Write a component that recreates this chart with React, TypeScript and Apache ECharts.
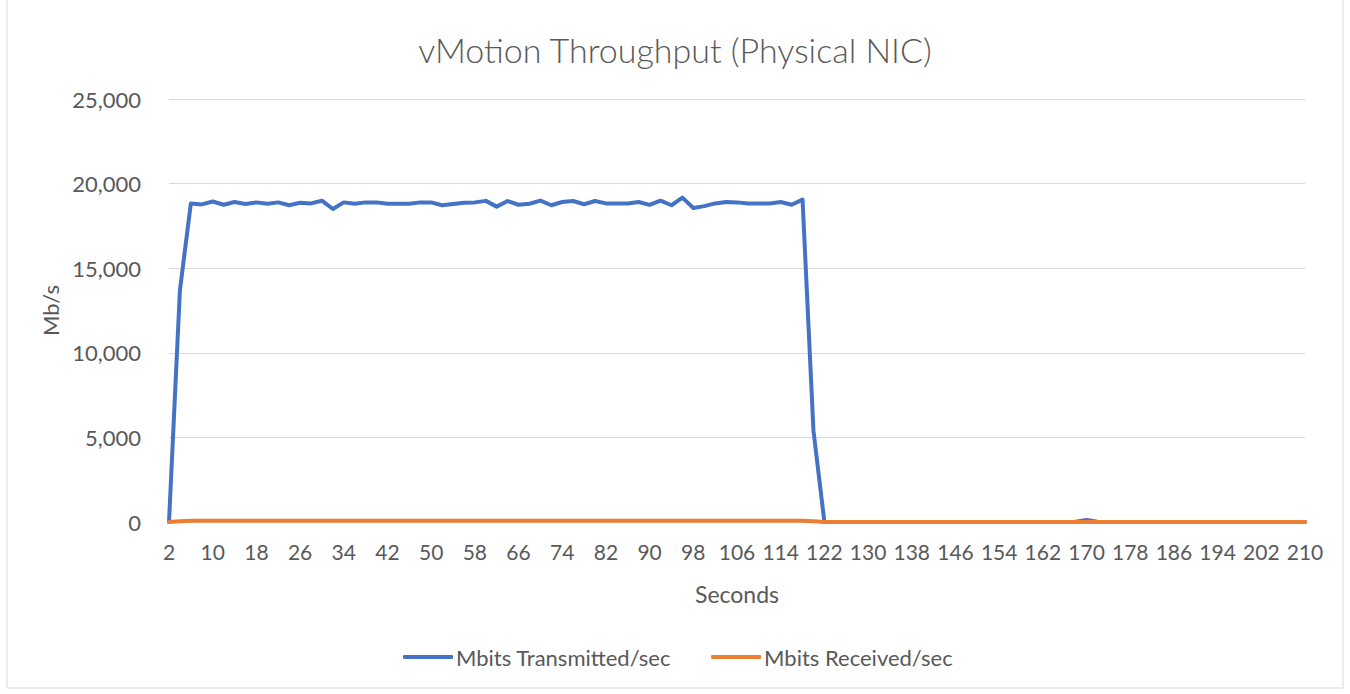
import React, { useEffect, useRef } from "react";
import * as echarts from "echarts";

const seconds: string[] = [];
for (let s = 2; s <= 210; s += 2) seconds.push(String(s));

const transmitted: number[] = [
  0, 13700, 18830, 18770, 18940, 18750, 18910, 18800, 18890, 18810,
  18890, 18720, 18870, 18830, 18990, 18500, 18890, 18810, 18890, 18890,
  18810, 18810, 18810, 18890, 18890, 18720, 18790, 18870, 18890, 18980,
  18640, 18970, 18750, 18810, 18990, 18720, 18910, 18970, 18780, 18970,
  18830, 18830, 18830, 18910, 18740, 18990, 18720, 19170, 18560, 18670,
  18830, 18910, 18890, 18830, 18830, 18830, 18910, 18750, 19050, 5400,
  0, 0, 0, 0, 0, 0, 0, 0, 0, 0,
  0, 0, 0, 0, 0, 0, 0, 0, 0, 0,
  0, 0, 0, 20, 120, 20, 0, 0, 0, 0,
  0, 0, 0, 0, 0, 0, 0, 0, 0, 0,
  0, 0, 0, 0, 0,
];

const received: number[] = [
  0, 50, 70, 70, 70, 70, 70, 70, 70, 70,
  70, 70, 70, 70, 70, 70, 70, 70, 70, 70,
  70, 70, 70, 70, 70, 70, 70, 70, 70, 70,
  70, 70, 70, 70, 70, 70, 70, 70, 70, 70,
  70, 70, 70, 70, 70, 70, 70, 70, 70, 70,
  70, 70, 70, 70, 70, 70, 70, 70, 70, 50,
  0, 0, 0, 0, 0, 0, 0, 0, 0, 0,
  0, 0, 0, 0, 0, 0, 0, 0, 0, 0,
  0, 0, 0, 0, 0, 0, 0, 0, 0, 0,
  0, 0, 0, 0, 0, 0, 0, 0, 0, 0,
  0, 0, 0, 0, 0,
];

const yTicks = { min: 0, max: 25000, interval: 5000 };

const FONT = "Lato, 'Noto Sans', sans-serif";
const TEXT = "#595959";

export default function App() {
  const ref = useRef<HTMLDivElement>(null);
  useEffect(() => {
    if (!ref.current) return;
    const chart = echarts.init(ref.current, undefined, { renderer: "svg" });
    chart.setOption({
      animation: false,
      backgroundColor: "#ffffff",
      textStyle: { fontFamily: FONT, color: TEXT },
      title: {
        text: "vMotion Throughput (Physical NIC)",
        left: "center",
        top: 27,
        textStyle: { fontFamily: FONT, fontSize: 34, fontWeight: 300, color: TEXT },
      },
      graphic: [
        {
          type: "rect",
          shape: { x: 7, y: -1, width: 1336, height: 689 },
          style: { fill: "none", stroke: "#d9d9d9", lineWidth: 1 },
          silent: true,
        },
      ],
      legend: {
        bottom: 21,
        left: 398,
        itemWidth: 50,
        itemHeight: 4,
        itemGap: 40,
        icon: "roundRect",
        textStyle: { fontFamily: FONT, fontSize: 22, color: TEXT, padding: [0, 0, 0, -2] },
        data: ["Mbits Transmitted/sec", "Mbits Received/sec"],
      },
      grid: { left: 169, right: 45, top: 99, bottom: 172, containLabel: false },
      xAxis: {
        type: "category",
        data: seconds,
        boundaryGap: false,
        name: "Seconds",
        nameLocation: "middle",
        nameGap: 60,
        nameTextStyle: { fontFamily: FONT, fontSize: 23, color: TEXT },
        axisLine: { show: true, lineStyle: { color: "#d9d9d9" } },
        axisTick: { show: false },
        axisLabel: { interval: 3, fontFamily: FONT, fontSize: 21, color: TEXT, margin: 19 },
        splitLine: { show: false },
      },
      yAxis: {
        type: "value",
        min: yTicks.min,
        max: yTicks.max,
        interval: yTicks.interval,
        name: "Mb/s",
        nameLocation: "middle",
        nameGap: 107,
        nameRotate: 90,
        nameTextStyle: { fontFamily: FONT, fontSize: 22, color: TEXT },
        axisLine: { show: false },
        axisTick: { show: false },
        axisLabel: {
          fontFamily: FONT,
          fontSize: 22,
          color: TEXT,
          margin: 28,
          formatter: (v: number) => v.toLocaleString("en-US"),
        },
        splitLine: { lineStyle: { color: "#d9d9d9", width: 1 } },
      },
      series: [
        {
          name: "Mbits Transmitted/sec",
          type: "line",
          data: transmitted,
          showSymbol: false,
          symbol: "none",
          lineStyle: { color: "#4472C4", width: 4, join: "round", cap: "round" },
          itemStyle: { color: "#4472C4" },
          z: 3,
        },
        {
          name: "Mbits Received/sec",
          type: "line",
          data: received,
          showSymbol: false,
          symbol: "none",
          lineStyle: { color: "#ED7D31", width: 4, join: "round", cap: "round" },
          itemStyle: { color: "#ED7D31" },
          z: 4,
        },
      ],
    });
    return () => chart.dispose();
  }, []);
  return (
    <div
      ref={ref}
      style={{ position: "absolute", left: 0, top: 0, width: 1350, height: 694 }}
    />
  );
}
